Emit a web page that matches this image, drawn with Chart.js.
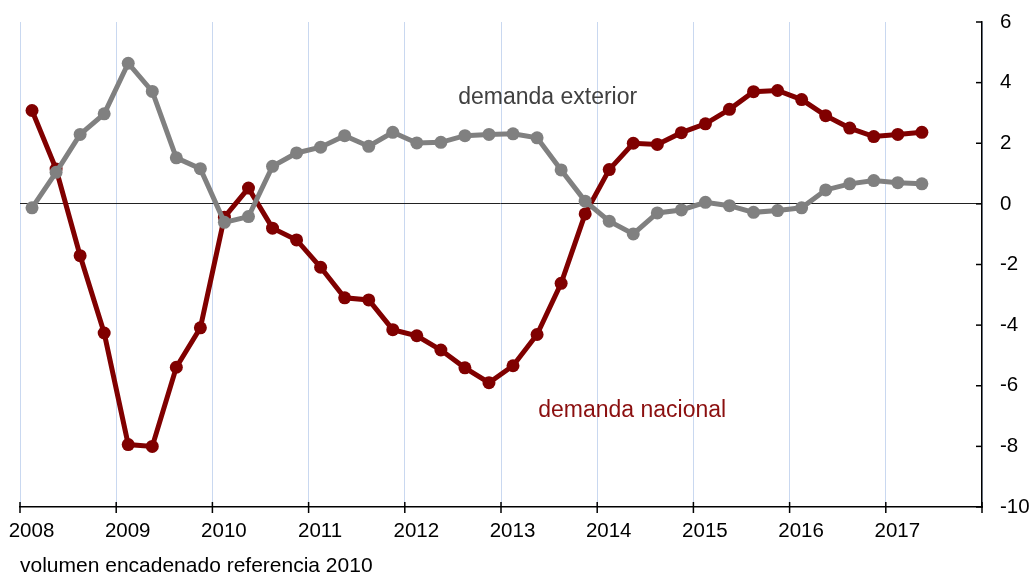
<!DOCTYPE html>
<html>
<head>
<meta charset="utf-8">
<script src="https://cdn.jsdelivr.net/npm/chart.js@4.4.1/dist/chart.umd.min.js"></script>
<style>
  body { margin: 0; background: #fff; }
  #wrap { width: 1032px; height: 577px; position: relative; }
</style>
</head>
<body>
<div id="wrap"><canvas id="grafico" width="1032" height="577"></canvas></div>
<script>
// trimestres 2008T1 .. 2017T2
var anios = [2008, 2009, 2010, 2011, 2012, 2013, 2014, 2015, 2016, 2017];
var trimestres = [];
anios.forEach(function (a) {
  for (var q = 1; q <= 4; q++) trimestres.push({ anio: a, trim: q });
});
trimestres = trimestres.slice(0, 38);

var nacional = [3.08, 1.15, -1.71, -4.26, -7.94, -8.00, -5.39, -4.09,
  -0.44, 0.52, -0.80, -1.19, -2.09, -3.10, -3.17, -4.15,
  -4.35, -4.82, -5.41, -5.90, -5.34, -4.31, -2.62, -0.33,
  1.13, 2.00, 1.96, 2.35, 2.64, 3.12, 3.70, 3.74,
  3.44, 2.91, 2.50, 2.22, 2.29, 2.36];

var exterior = [-0.13, 1.04, 2.29, 2.97, 4.64, 3.71, 1.52, 1.16,
  -0.61, -0.42, 1.24, 1.68, 1.87, 2.25, 1.90, 2.36,
  2.01, 2.03, 2.25, 2.29, 2.31, 2.18, 1.12, 0.09,
  -0.57, -0.99, -0.30, -0.20, 0.05, -0.06, -0.28, -0.22,
  -0.13, 0.46, 0.66, 0.77, 0.70, 0.66];

var ejeY = [-10, -8, -6, -4, -2, 0, 2, 4, 6];

function puntos(serie) {
  return serie.map(function (v, i) {
    var t = trimestres[i];
    return { x: t.anio + (t.trim - 0.5) / 4, y: v };
  });
}

var fuente = '"Liberation Sans", Arial, sans-serif';

var extras = {
  id: 'extras',
  afterDraw: function (chart) {
    var ctx = chart.ctx, sx = chart.scales.x, sy = chart.scales.y;
    ctx.save();
    ctx.strokeStyle = '#000';
    ctx.lineWidth = 1.5;
    sy.ticks.forEach(function (t) {
      var py = sy.getPixelForValue(t.value);
      ctx.beginPath(); ctx.moveTo(sy.left - 6, py); ctx.lineTo(sy.left, py); ctx.stroke();
    });
    sx.ticks.forEach(function (t) {
      var px = sx.getPixelForValue(t.value);
      ctx.beginPath(); ctx.moveTo(px, sx.top - 5); ctx.lineTo(px, sx.top + 6); ctx.stroke();
    });
    ctx.font = '23px ' + fuente;
    ctx.textAlign = 'center';
    ctx.textBaseline = 'middle';
    ctx.fillStyle = '#404040';
    ctx.fillText('demanda exterior', sx.getPixelForValue(2013.485), sy.getPixelForValue(3.52));
    ctx.fillStyle = '#8b0f0f';
    ctx.fillText('demanda nacional', sx.getPixelForValue(2014.364), sy.getPixelForValue(-6.82));
    ctx.font = '21px ' + fuente;
    ctx.textAlign = 'left';
    ctx.textBaseline = 'alphabetic';
    ctx.fillStyle = '#000';
    ctx.fillText('volumen encadenado referencia 2010', 20, 572);
    ctx.restore();
  }
};

var ctx = document.getElementById('grafico').getContext('2d');
var grafico = new Chart(ctx, {
  type: 'line',
  data: {
    datasets: [{
      label: 'demanda exterior',
      data: puntos(exterior),
      borderColor: '#808080',
      backgroundColor: '#808080',
      borderWidth: 5,
      pointRadius: 6.5,
      pointBorderWidth: 0,
      tension: 0
    }, {
      label: 'demanda nacional',
      data: puntos(nacional),
      borderColor: '#800000',
      backgroundColor: '#800000',
      borderWidth: 5,
      pointRadius: 6.5,
      pointBorderWidth: 0,
      tension: 0
    }]
  },
  options: {
    responsive: false,
    animation: false,
    layout: { padding: { left: 20, top: 22, right: 0, bottom: 0 } },
    plugins: {
      legend: { display: false },
      tooltip: { enabled: false }
    },
    scales: {
      x: {
        type: 'linear',
        min: 2008,
        max: 2018,
        afterFit: function (s) { s.height = 70; s.paddingLeft = 0; s.paddingRight = 0; },
        afterBuildTicks: function (s) {
          s.ticks = anios.concat([2018]).map(function (a) { return { value: a }; });
        },
        ticks: {
          autoSkip: false,
          maxRotation: 0,
          padding: 12,
          labelOffset: 11.5,
          color: '#000',
          font: { family: fuente, size: 20.5 },
          callback: function (v) { return v < 2018 ? String(v) : ''; }
        },
        grid: {
          drawTicks: false,
          color: '#c9d8f0',
          lineWidth: 1,
          borderDash: [2, 2]
        },
        border: { display: true, color: '#000', width: 1.5 }
      },
      y: {
        position: 'right',
        min: -10,
        max: 6,
        afterFit: function (s) { s.width = 50; s.paddingTop = 0; s.paddingBottom = 0; },
        afterBuildTicks: function (s) {
          s.ticks = ejeY.map(function (v) { return { value: v }; });
        },
        ticks: {
          padding: 18,
          color: '#000',
          font: { family: fuente, size: 20.5 }
        },
        grid: {
          drawTicks: false,
          color: function (c) { return c.tick && c.tick.value === 0 ? '#222' : 'rgba(0,0,0,0)'; },
          lineWidth: 1,
          borderDash: [1, 1]
        },
        border: { display: true, color: '#000', width: 1.5 }
      }
    }
  },
  plugins: [extras]
});
</script>
</body>
</html>
